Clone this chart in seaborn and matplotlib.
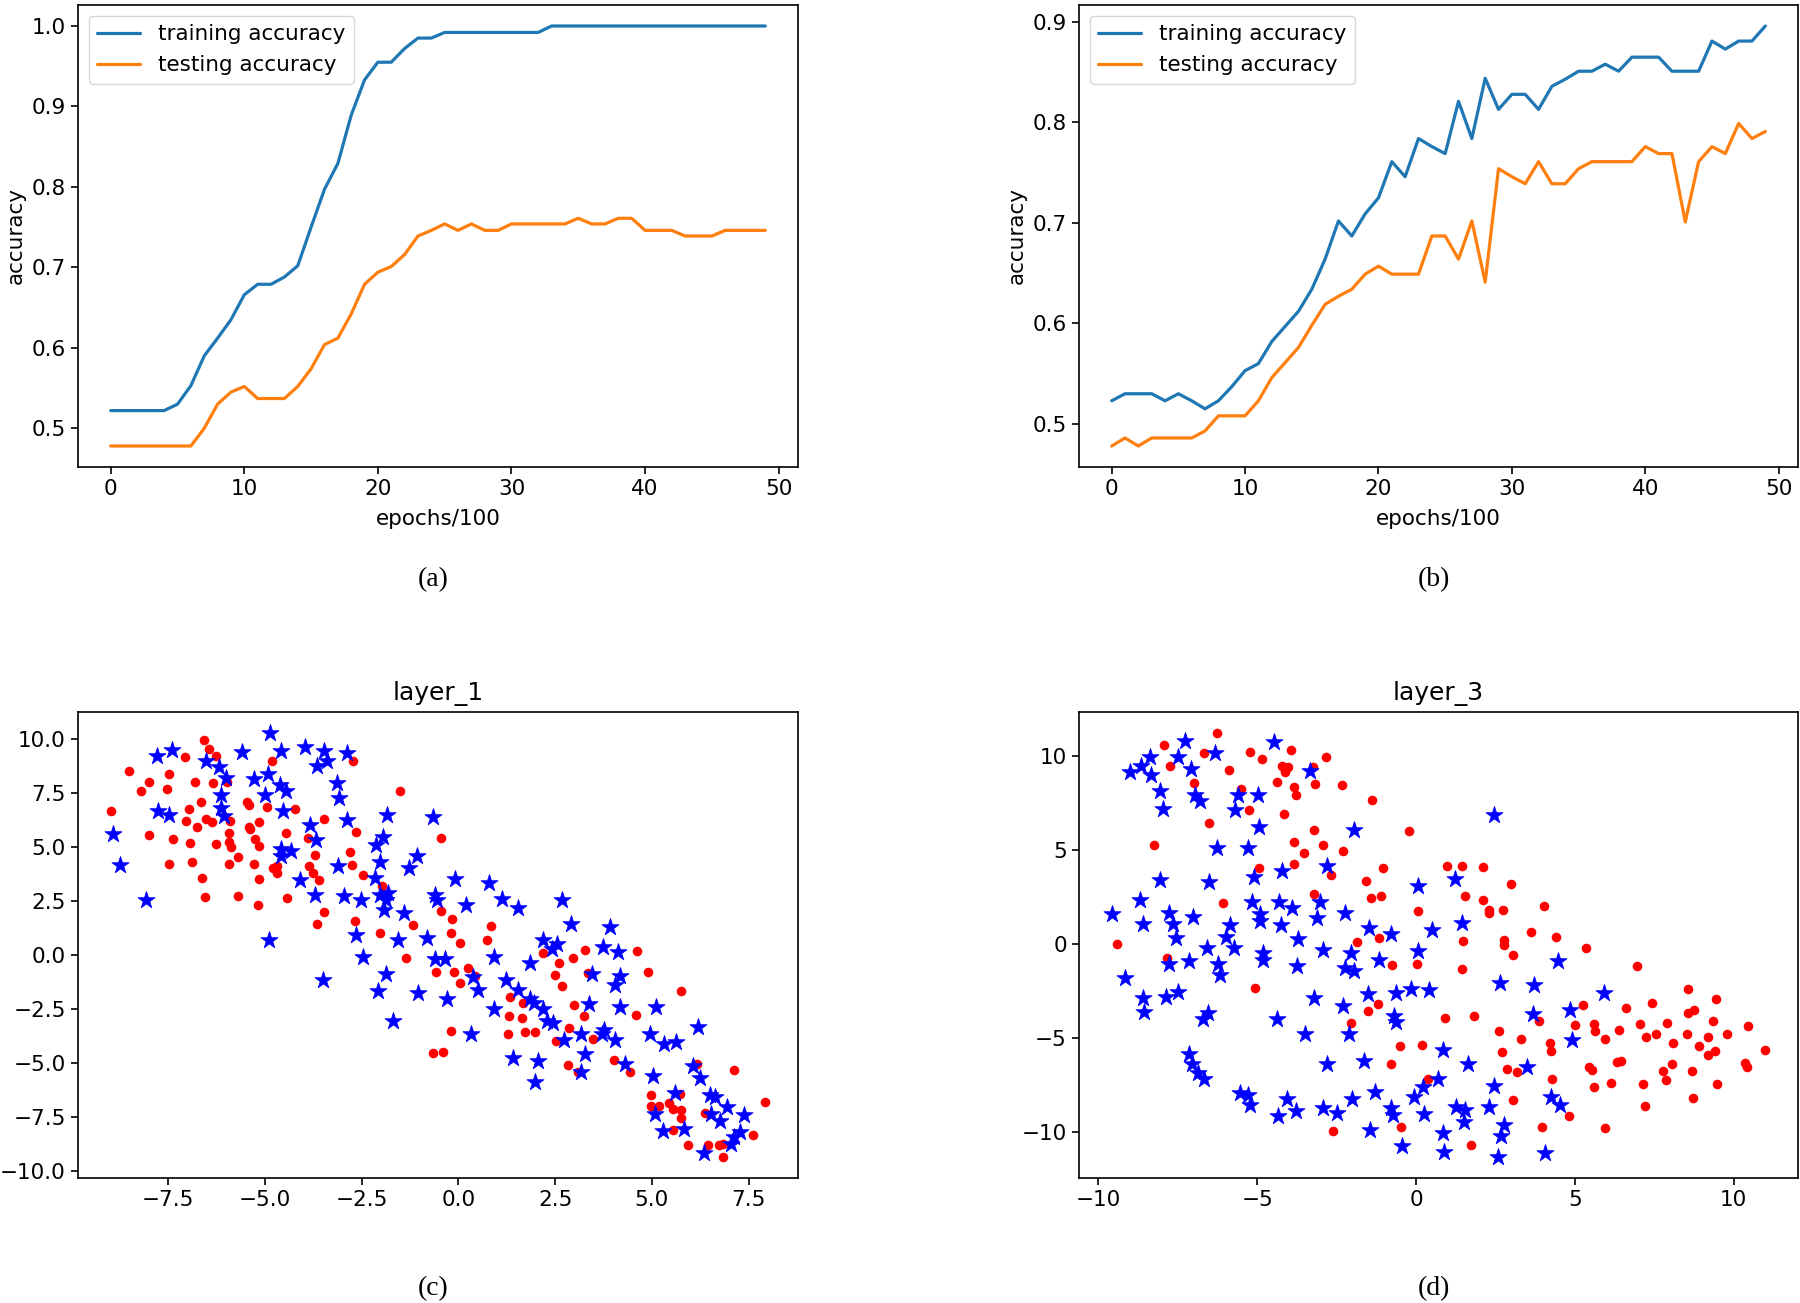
import pandas as pd
import matplotlib
matplotlib.use("Agg")
import matplotlib.pyplot as plt
import seaborn as sns

# accuracy curves (epochs/100)
epochs = list(range(50))
train_a = [0.522, 0.522, 0.522, 0.522, 0.522, 0.530, 0.553, 0.590, 0.612, 0.635,
           0.666, 0.679, 0.679, 0.688, 0.702, 0.750, 0.797, 0.829, 0.889, 0.933,
           0.955, 0.955, 0.972, 0.985, 0.985, 0.992, 0.992, 0.992, 0.992, 0.992,
           0.992, 0.992, 0.992, 1.0, 1.0, 1.0, 1.0, 1.0, 1.0, 1.0,
           1.0, 1.0, 1.0, 1.0, 1.0, 1.0, 1.0, 1.0, 1.0, 1.0]
test_a = [0.478, 0.478, 0.478, 0.478, 0.478, 0.478, 0.478, 0.500, 0.530, 0.545,
          0.552, 0.537, 0.537, 0.537, 0.552, 0.574, 0.604, 0.612, 0.642, 0.679,
          0.694, 0.701, 0.716, 0.739, 0.746, 0.754, 0.746, 0.754, 0.746, 0.746,
          0.754, 0.754, 0.754, 0.754, 0.754, 0.761, 0.754, 0.754, 0.761, 0.761,
          0.746, 0.746, 0.746, 0.739, 0.739, 0.739, 0.746, 0.746, 0.746, 0.746]
train_b = [0.523, 0.530, 0.530, 0.530, 0.523, 0.530, 0.523, 0.515, 0.523, 0.537,
           0.553, 0.560, 0.582, 0.597, 0.612, 0.634, 0.664, 0.702, 0.687, 0.709,
           0.725, 0.761, 0.746, 0.784, 0.776, 0.769, 0.821, 0.784, 0.844, 0.813,
           0.828, 0.828, 0.813, 0.836, 0.843, 0.851, 0.851, 0.858, 0.851, 0.865,
           0.865, 0.865, 0.851, 0.851, 0.851, 0.881, 0.873, 0.881, 0.881, 0.896]
test_b = [0.478, 0.486, 0.478, 0.486, 0.486, 0.486, 0.486, 0.493, 0.508, 0.508,
          0.508, 0.523, 0.546, 0.561, 0.576, 0.598, 0.619, 0.627, 0.634, 0.649,
          0.657, 0.649, 0.649, 0.649, 0.687, 0.687, 0.664, 0.702, 0.641, 0.754,
          0.746, 0.739, 0.761, 0.739, 0.739, 0.754, 0.761, 0.761, 0.761, 0.761,
          0.776, 0.769, 0.769, 0.701, 0.761, 0.776, 0.769, 0.799, 0.784, 0.791]

# layer_1 embedding
red_c = [(-8.98, 6.69), (-8.51, 8.51), (-8.21, 7.58), (-8.00, 8.01), (-7.99, 5.58), (-7.52, 7.70),
         (-7.47, 8.38), (-7.48, 4.21), (-7.36, 5.38), (-7.07, 9.18), (-6.95, 6.75), (-7.03, 6.22),
         (-6.92, 5.18), (-6.89, 4.30), (-6.81, 8.01), (-6.76, 5.95), (-6.66, 7.09), (-6.62, 3.56),
         (-6.57, 9.95), (-6.55, 2.67), (-6.45, 9.54), (-6.53, 6.29), (-6.37, 6.16), (-6.34, 7.98),
         (-6.26, 9.20), (-6.26, 5.15), (-5.97, 8.01), (-5.89, 6.19), (-5.92, 5.67), (-5.93, 5.22),
         (-5.86, 5.02), (-5.92, 4.24), (-5.70, 4.56), (-5.69, 2.74), (-5.47, 7.10), (-5.40, 6.96),
         (-5.40, 5.92), (-5.37, 5.82), (-5.25, 5.38), (-5.16, 5.04), (-5.15, 6.18), (-5.27, 4.24),
         (-5.14, 3.51), (-5.18, 2.33), (-4.95, 6.87), (-4.82, 9.01), (-4.78, 4.04), (-4.68, 4.14),
         (-4.68, 3.79), (-4.44, 5.64), (-4.42, 2.65), (-4.23, 6.76), (-3.89, 5.41), (-3.86, 4.11),
         (-3.75, 3.79), (-3.70, 4.65), (-3.59, 3.48), (-3.46, 6.30), (-3.46, 1.99), (-3.66, 1.46),
         (-2.80, 4.76), (-2.74, 4.18), (-2.71, 9.00), (-2.64, 5.69), (-2.68, 1.56), (-2.46, 3.73),
         (-1.96, 3.20), (-2.03, 1.02), (-1.50, 7.61), (-1.16, 1.39), (-1.35, -0.12),
         (-0.45, 5.41), (-0.45, 2.06), (-0.17, 1.66), (-0.20, 1.02), (0.04, 0.55), (-0.58, -0.79),
         (-0.11, -0.79), (0.05, -1.29), (0.24, -0.60), (0.42, -0.96), (-0.20, -3.53), (-0.66, -4.55),
         (-0.40, -4.51), (0.84, 1.36), (0.73, 0.68), (1.34, -1.94), (1.68, -2.20), (1.31, -2.83),
         (1.65, -2.91), (1.29, -3.64), (1.72, -3.56), (1.97, -3.57), (2.20, 0.09), (2.59, -0.35),
         (2.49, -0.91), (2.67, -1.45), (2.97, -0.12), (3.28, 0.23), (3.36, -0.82), (3.00, -2.33),
         (3.24, -2.83), (2.87, -3.37), (2.53, -3.98), (3.48, -3.90), (2.84, -5.08), (3.10, -5.41),
         (4.01, -4.87), (4.44, -5.41), (4.62, 0.18), (4.90, -0.79), (4.59, -2.76), (5.76, -1.65),
         (6.17, -5.05), (7.11, -5.33), (4.97, -6.49), (4.98, -7.01), (5.18, -6.98), (5.43, -6.87),
         (5.55, -7.12), (5.72, -6.46), (5.74, -7.16), (5.75, -7.53), (5.55, -8.10), (5.93, -8.78),
         (6.37, -7.30), (6.44, -8.78), (6.74, -8.78), (6.84, -8.77), (6.84, -9.35), (7.62, -8.34),
         (7.93, -6.83)]
blue_c = [(-8.92, 5.61), (-8.73, 4.19), (-8.06, 2.56), (-7.78, 9.23), (-7.39, 9.49), (-7.76, 6.69),
          (-7.48, 6.47), (-6.52, 9.00), (-6.18, 8.72), (-5.99, 8.20), (-6.12, 7.40), (-6.13, 6.80),
          (-6.06, 6.44), (-5.60, 9.43), (-5.28, 8.17), (-4.87, 10.28), (-4.91, 8.38), (-5.00, 7.40),
          (-4.57, 9.46), (-4.61, 7.89), (-4.45, 7.61), (-4.52, 6.69), (-3.97, 9.66), (-3.47, 9.46),
          (-3.64, 8.74), (-3.40, 8.97), (-3.14, 7.97), (-3.09, 7.26), (-2.88, 9.37), (-3.82, 6.04),
          (-3.68, 5.33), (-2.87, 6.26), (-1.85, 6.50), (-1.94, 5.45), (-2.13, 5.10), (-4.59, 4.92),
          (-4.59, 4.61), (-4.31, 4.81), (-4.08, 3.48), (-3.10, 4.11), (-2.02, 4.30), (-2.15, 3.57),
          (-3.70, 2.77), (-2.95, 2.73), (-2.52, 2.57), (-2.02, 2.76), (-1.81, 2.87), (-1.87, 2.56),
          (-1.91, 2.10), (-1.40, 1.97), (-1.06, 4.59), (-1.27, 4.02), (-2.64, 0.92), (-1.56, 0.71),
          (-0.82, 0.80), (-2.47, -0.11), (-4.89, 0.68), (-3.49, -1.16), (-1.87, -0.86), (-2.08, -1.66),
          (-1.03, -1.76), (-1.68, -3.05),
          (-0.66, 6.41), (-0.08, 3.53), (-0.60, 2.76), (-0.54, 2.56), (0.20, 2.34), (0.80, 3.36),
          (1.12, 2.59), (1.54, 2.19), (2.69, 2.56), (2.91, 1.42), (3.93, 1.29), (-0.60, -0.17),
          (-0.34, -0.17), (-0.28, -2.02), (0.39, -1.02), (0.52, -1.60), (0.93, -0.09), (0.91, -2.48),
          (0.33, -3.68), (1.24, -1.14), (1.55, -1.63), (1.84, -2.02), (1.96, -2.22), (2.18, -2.48),
          (2.30, -3.05), (2.44, -3.14), (1.86, -0.37), (2.18, 0.71), (2.42, 0.29), (2.55, 0.52),
          (1.40, -4.75), (2.05, -4.90), (1.97, -5.90), (2.74, -3.94), (3.18, -3.68), (3.28, -4.59),
          (3.18, -5.41), (3.37, -2.25), (3.45, -0.86), (3.75, 0.37), (4.13, 0.14), (4.18, -0.99),
          (4.04, -1.40), (4.18, -2.43), (3.71, -3.64), (3.77, -3.48), (4.06, -3.94), (4.30, -5.07),
          (5.11, -2.40), (4.96, -3.64), (5.32, -4.10), (5.62, -4.02), (6.19, -3.33), (5.03, -5.61),
          (6.05, -5.15), (6.24, -5.69), (5.59, -6.41), (5.09, -7.38), (5.30, -8.15), (5.82, -8.06),
          (6.51, -6.49), (6.62, -6.59), (6.54, -7.38), (6.77, -7.69), (6.93, -7.03), (7.37, -7.43),
          (7.29, -8.18), (7.12, -8.41), (7.05, -8.77), (6.34, -9.15)]

# layer_3 embedding
red_d = [(-9.41, 0.00), (-8.24, 5.24), (-7.92, 10.58), (-7.74, 9.47), (-7.84, -0.74), (-6.99, 8.53),
         (-6.68, 10.11), (-6.51, 6.41), (-6.26, 11.19), (-6.09, 2.14), (-5.90, 9.24), (-5.52, 8.23),
         (-5.27, 7.08), (-5.24, 10.21), (-4.93, 4.02), (-5.06, -2.37), (-4.86, 9.81), (-4.38, 8.62),
         (-4.22, 9.47), (-4.11, 9.15), (-4.03, 9.38), (-4.17, 6.87), (-3.94, 10.32), (-3.83, 8.35),
         (-3.79, 7.89), (-3.85, 5.38), (-3.83, 4.25), (-3.51, 4.83), (-3.21, 6.04), (-3.17, 8.50),
         (-3.25, 9.38), (-2.94, 5.26), (-2.84, 9.91), (-2.69, 3.63), (-3.21, 2.65), (-2.32, 8.44),
         (-2.30, 4.94), (-1.37, 7.65), (-1.03, 4.02), (-1.56, 3.35), (-1.42, 2.44), (-1.09, 2.53),
         (-0.21, 5.98), (0.05, 1.73), (-1.85, 0.09), (-1.17, 0.30), (-0.75, -1.12), (0.04, -1.06),
         (-1.20, -3.22), (-1.50, -3.56), (-2.04, -4.23), (-0.49, -5.43), (-0.79, -6.42), (-0.46, -9.77),
         (-2.62, -9.98),
         (0.97, 4.14), (1.46, 4.14), (2.10, 4.07), (2.98, 3.17), (1.54, 2.51), (2.12, 2.32),
         (2.30, 1.81), (2.30, 1.65), (2.74, 1.81), (4.04, 1.98), (3.61, 0.64), (4.41, 0.34),
         (1.47, 0.14), (2.78, 0.18), (2.78, -0.05), (3.05, -0.62), (5.36, -0.25), (6.96, -1.17),
         (1.44, -1.35), (0.90, -3.95), (1.82, -3.82), (2.62, -4.64), (3.30, -5.08), (2.70, -5.77),
         (0.19, -5.40), (3.88, -4.12), (4.23, -5.29), (4.26, -5.70), (2.86, -6.64), (3.17, -6.83),
         (0.39, -7.17), (4.28, -7.17), (3.04, -8.30), (4.83, -9.17), (3.97, -9.77), (1.74, -10.69),
         (5.25, -3.24), (5.01, -4.30), (5.62, -4.25), (5.64, -4.64), (5.95, -5.08), (6.38, -4.57),
         (6.61, -3.42), (5.46, -6.55), (5.54, -6.73), (5.61, -7.61), (6.15, -7.40), (5.94, -9.82),
         (6.33, -6.27), (6.45, -6.23), (7.07, -4.27), (7.24, -4.96), (7.42, -3.15), (7.56, -4.81),
         (7.89, -4.19), (8.10, -5.29), (7.16, -7.45), (7.22, -8.64), (7.77, -6.76), (8.06, -6.41),
         (7.88, -7.22), (8.57, -2.42), (8.53, -4.78), (8.57, -3.68), (8.74, -3.54), (8.69, -6.78),
         (8.73, -8.19), (8.90, -5.45), (9.19, -4.94), (9.19, -5.91), (9.34, -4.12), (9.44, -2.96),
         (9.43, -5.72), (9.78, -4.78), (9.49, -7.47), (10.47, -4.37), (10.36, -6.32), (10.42, -6.57),
         (11.00, -5.65)]
blue_d = [(-9.58, 1.59), (-9.15, -1.81), (-9.00, 9.12), (-8.67, 9.42), (-8.36, 9.91), (-8.35, 8.99),
          (-8.69, 2.30), (-8.58, 1.03), (-8.58, -2.88), (-8.55, -3.63), (-8.06, 8.14), (-7.96, 7.15),
          (-8.05, 3.40), (-7.79, 1.65), (-7.66, 1.03), (-7.56, 0.32), (-7.78, -1.10), (-7.88, -2.83),
          (-7.48, -2.55), (-7.49, 9.91), (-7.26, 10.78), (-7.09, 9.26), (-6.96, 7.88), (-6.80, 7.56),
          (-7.01, 1.43), (-7.14, -0.92), (-7.15, -5.88), (-7.05, -6.37), (-6.87, -6.87), (-6.66, -7.17),
          (-6.72, -3.98), (-6.56, -3.68), (-6.59, -0.23), (-6.52, 3.27), (-6.32, 10.14), (-6.26, 5.08),
          (-6.22, -1.06), (-6.17, -1.68), (-5.98, 0.35), (-5.87, 1.01), (-5.74, -0.23), (-5.70, 7.13),
          (-5.61, 7.91), (-5.54, -7.93), (-5.30, -8.02), (-5.23, -8.55), (-5.28, 5.08), (-5.09, 3.54),
          (-5.16, 2.21), (-4.93, 6.19), (-4.96, 7.93), (-4.91, 1.59), (-4.90, 1.20), (-4.80, -0.48),
          (-4.81, -0.85), (-4.46, 10.74), (-4.23, 3.86), (-4.32, 2.21), (-4.24, 0.97), (-3.90, 1.91),
          (-3.70, 0.27), (-3.73, -1.20), (-4.39, -4.02), (-4.06, -8.27), (-4.33, -9.17), (-3.77, -8.90),
          (-3.48, -4.81), (-3.22, -2.87), (-3.34, 9.20), (-3.01, 2.21), (-3.13, 1.38), (-2.92, -0.32),
          (-2.80, 4.12), (-2.80, -6.42), (-2.92, -8.76), (-2.50, -8.99), (-2.23, 1.65), (-2.05, -0.50),
          (-2.24, -1.27), (-1.96, -1.45), (-2.30, -3.31), (-2.12, -4.81), (-1.94, 6.05), (-2.02, -8.27),
          (-1.62, -6.23), (-1.50, -2.69), (-1.47, 0.83), (-1.15, -0.85), (-1.29, -7.88), (-1.45, -9.91),
          (-0.79, 0.50), (-0.63, -2.60), (-0.68, -3.84), (-0.63, -4.16), (-0.79, -8.76), (-0.73, -9.12),
          (-0.45, -10.76), (-0.16, -2.39), (0.07, 3.06), (0.07, -0.39), (-0.05, -8.14),
          (2.46, 6.83), (1.23, 3.45), (1.46, 1.12), (0.50, 0.71), (4.48, -0.94), (0.42, -2.44),
          (2.64, -2.09), (3.71, -2.21), (5.91, -2.62), (4.85, -3.50), (3.70, -3.73), (4.91, -5.10),
          (0.84, -5.66), (1.64, -6.37), (0.68, -7.17), (0.21, -7.61), (0.26, -9.08), (2.46, -7.56),
          (3.51, -6.58), (4.25, -8.14), (4.55, -8.58), (1.26, -8.67), (1.55, -8.85), (1.50, -9.49),
          (2.31, -8.67), (2.76, -9.65), (2.67, -10.21), (0.84, -10.05), (0.87, -11.10), (2.57, -11.33),
          (4.07, -11.15)]

sns.set_style("ticks")
plt.rcParams.update({
    "font.family": ["DejaVu Sans"],
    "font.size": 15.5,
    "axes.edgecolor": "black",
    "axes.linewidth": 1.2,
    "xtick.major.size": 5.25,
    "ytick.major.size": 5.25,
    "xtick.major.width": 1.2,
    "ytick.major.width": 1.2,
    "xtick.labelsize": 15.5,
    "ytick.labelsize": 15.5,
    "xtick.color": "black",
    "ytick.color": "black",
    "text.color": "black",
    "axes.labelcolor": "black",
})

W, H = 1800, 1303
fig = plt.figure(figsize=(18, 13.03), dpi=100)


def box(l, r, t, b):
    return [l / W, 1 - b / H, (r - l) / W, (b - t) / H]


ax_a = fig.add_axes(box(78, 798, 5, 467))
ax_b = fig.add_axes(box(1079, 1798, 5, 467))
ax_c = fig.add_axes(box(78, 798, 712, 1178))
ax_d = fig.add_axes(box(1079, 1798, 712, 1178))

for ax, tr, te in [(ax_a, train_a, test_a), (ax_b, train_b, test_b)]:
    sns.lineplot(x=epochs, y=tr, ax=ax, color="#1f77b4", linewidth=2.3, label="training accuracy")
    sns.lineplot(x=epochs, y=te, ax=ax, color="#ff7f0e", linewidth=2.3, label="testing accuracy")
    ax.set_xlabel("epochs/100", fontsize=15.5, labelpad=7)
    ax.set_ylabel("accuracy", fontsize=15.5)
    ax.set_xticks([0, 10, 20, 30, 40, 50])
    ax.legend(loc="upper left", fontsize=15.5)

for ax, red, blue, title in [(ax_c, red_c, blue_c, "layer_1"), (ax_d, red_d, blue_d, "layer_3")]:
    rdf = pd.DataFrame(red, columns=["x", "y"])
    bdf = pd.DataFrame(blue, columns=["x", "y"])
    sns.scatterplot(data=rdf, x="x", y="y", ax=ax, color="red", marker="o", s=48, linewidth=0)
    sns.scatterplot(data=bdf, x="x", y="y", ax=ax, color="blue", marker="*", s=165,
                    edgecolor="blue", linewidth=0.6)
    ax.set_xlabel("")
    ax.set_ylabel("")
    ax.set_title(title, fontsize=18, pad=9)

ax_d.set_yticks([-10, -5, 0, 5, 10])

for lab, x, y in [("(a)", 433, 580), ("(b)", 1434, 580), ("(c)", 433, 1289), ("(d)", 1434, 1289)]:
    fig.text(x / W, 1 - y / H, lab, family="Liberation Serif", fontsize=20, ha="center", va="center")

fig.savefig("out.png", dpi=100)
